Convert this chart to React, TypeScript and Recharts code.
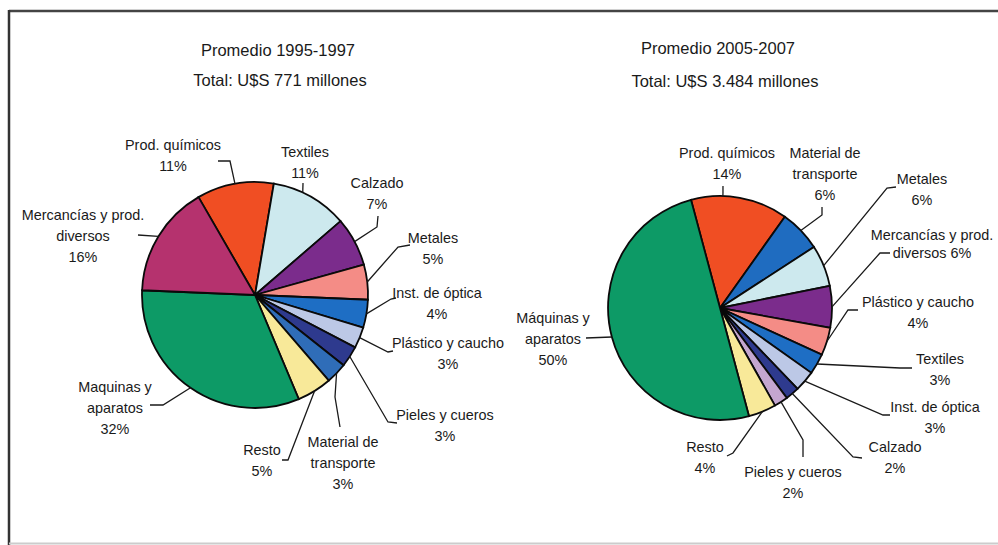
import React from "react";
import { PieChart, Pie, Cell } from "recharts";

// categories and shares (%), in clockwise order
const names1995 = [
	"Prod. químicos",
	"Textiles",
	"Calzado",
	"Metales",
	"Inst. de óptica",
	"Plástico y caucho",
	"Pieles y cueros",
	"Material de\ntransporte",
	"Resto",
	"Maquinas y\naparatos",
	"Mercancías y prod.\ndiversos",
];
const values1995 = [11, 11, 7, 5, 4, 3, 3, 3, 5, 32, 16];

const names2005 = [
	"Prod. químicos",
	"Material de\ntransporte",
	"Metales",
	"Mercancías y prod.\ndiversos",
	"Plástico y caucho",
	"Textiles",
	"Inst. de óptica",
	"Calzado",
	"Pieles y cueros",
	"Resto",
	"Máquinas y\naparatos",
];
const values2005 = [14, 6, 6, 6, 4, 3, 3, 2, 2, 4, 50];

const titles1995 = ["Promedio 1995-1997", "Total: U$S 771 millones"];
const titles2005 = ["Promedio 2005-2007", "Total: U$S 3.484 millones"];

const colors1995 = [
	"#F04E23", "#CDE9EE", "#7B2C8C", "#F48C86", "#1E6EC4", "#BCC8E6",
	"#2E3A8E", "#2F6DB8", "#F8E999", "#0D9A66", "#B5326E",
];
const colors2005 = [
	"#F04E23", "#1F6CC0", "#CDE9EE", "#7B2C8C", "#F48C86", "#1E6EC4",
	"#BCC8E6", "#2E3A8E", "#C4A6D0", "#F8E999", "#0D9A66",
];

// label placement, relative to the pie centre: text block + leader path
type Spot = { t: [number, number]; path: [number, number][]; angle?: number; inline?: boolean; lh?: number };

const spots1995: Spot[] = [
	{ t: [-82, -150], path: [[-25, -134], [-37, -134]] },
	{ t: [50, -143], angle: 65, path: [[48, -112]] },
	{ t: [122, -112], path: [[122, -68], [123, -79]] },
	{ t: [178, -57], path: [[143, -48], [155, -50]] },
	{ t: [182, -2], path: [[136, 4], [141, 3]] },
	{ t: [193, 48], path: [[133, 57], [138, 56]] },
	{ t: [190, 120], path: [[133, 127], [142, 128]] },
	{ t: [88, 147], path: [[80, 102], [85, 132]] },
	{ t: [7, 155], path: [[33, 165], [27, 165]] },
	{ t: [-140, 92], path: [[-92, 110], [-105, 110]] },
	{ t: [-172, -80], path: [[-117, -60]] },
];

const spots2005: Spot[] = [
	{ t: [7, -155], angle: 88.5, path: [[3, -122]] },
	{ t: [105, -155], path: [[102, -93], [102, -101]] },
	{ t: [202, -129], path: [[167, -120], [176, -121]] },
	{ t: [212, -73], inline: true, lh: 18, path: [[160, -55], [170, -55]] },
	{ t: [198, -6], path: [[128, 2], [138, 2]] },
	{ t: [220, 51], path: [[180, 60], [192, 60]] },
	{ t: [215, 99], path: [[163, 107], [170, 107]] },
	{ t: [175, 139], path: [[133, 149], [142, 150]] },
	{ t: [73, 164], path: [[83, 132], [83, 149]] },
	{ t: [-15, 139], path: [[13, 145], [7, 148]] },
	{ t: [-167, 10], path: [[-134, 30]] },
];

const FONT = "'Liberation Sans', Arial, sans-serif";
const INK = "#1a1a1a";
const RAD = Math.PI / 180;

const makeLabel = (spots: Spot[]) => (props: any) => {
	const { cx, cy, midAngle, outerRadius, index, name, value } = props;
	const s = spots[index];
	const a = (s.angle ?? midAngle) * RAD;
	const pts = [[cx + outerRadius * Math.cos(a), cy - outerRadius * Math.sin(a)]].concat(
		s.path.map(([dx, dy]) => [cx + dx, cy + dy])
	);
	const parts = String(name).split("\n");
	const lines = s.inline
		? [...parts.slice(0, -1), parts[parts.length - 1] + " " + value + "%"]
		: [...parts, value + "%"];
	const lh = s.lh ?? 21;
	return (
		<g key={"lbl" + index}>
			<polyline points={pts.map((p) => p.join(",")).join(" ")} fill="none" stroke={INK} strokeWidth={1.3} />
			{lines.map((ln, i) => (
				<text
					key={i}
					x={cx + s.t[0]}
					y={cy + s.t[1] + i * lh}
					textAnchor="middle"
					dominantBaseline="central"
					fontFamily={FONT}
					fontSize={14.4}
					fill={INK}>
					{ln}
				</text>
			))}
		</g>
	);
};

const data1995 = names1995.map((n, i) => ({ name: n, value: values1995[i] }));
const data2005 = names2005.map((n, i) => ({ name: n, value: values2005[i] }));

const App = () => {
	return (
		<div style={{ position: "absolute", left: 0, top: 0, width: 998, height: 545, background: "#fff" }}>
			<svg width={998} height={545} style={{ position: "absolute", left: 0, top: 0 }}>
				<line x1={9} y1={11} x2={998} y2={11} stroke="#444" strokeWidth={2.5} />
				<line x1={9} y1={10} x2={9} y2={545} stroke="#333" strokeWidth={2.5} />
				<line x1={9} y1={543.5} x2={998} y2={543.5} stroke="#ccc" strokeWidth={2} />
				{titles1995.map((t, i) => (
					<text key={t} x={i ? 280 : 278} y={50 + i * 30} textAnchor="middle" dominantBaseline="central"
						fontFamily={FONT} fontSize={16.5} fill={INK}>{t}</text>
				))}
				{titles2005.map((t, i) => (
					<text key={t} x={i ? 725 : 718} y={48 + i * 33} textAnchor="middle" dominantBaseline="central"
						fontFamily={FONT} fontSize={16.5} fill={INK}>{t}</text>
				))}
			</svg>
			<div style={{ position: "absolute", left: 0, top: 0 }}>
				<PieChart width={998} height={545} margin={{ top: 0, right: 0, left: 0, bottom: 0 }}>
					<Pie
						data={data1995}
						dataKey="value"
						nameKey="name"
						cx={255}
						cy={295}
						outerRadius={113}
						startAngle={120}
						endAngle={-240}
						stroke="#0a0a0a"
						strokeWidth={1.8}
						labelLine={false}
						label={makeLabel(spots1995)}
						isAnimationActive={false}>
						{data1995.map((d, i) => (
							<Cell key={d.name} fill={colors1995[i]} />
						))}
					</Pie>
					<Pie
						data={data2005}
						dataKey="value"
						nameKey="name"
						cx={720}
						cy={308}
						outerRadius={112}
						startAngle={105}
						endAngle={-255}
						stroke="#0a0a0a"
						strokeWidth={1.8}
						labelLine={false}
						label={makeLabel(spots2005)}
						isAnimationActive={false}>
						{data2005.map((d, i) => (
							<Cell key={d.name} fill={colors2005[i]} />
						))}
					</Pie>
				</PieChart>
			</div>
		</div>
	);
};

export default App;
